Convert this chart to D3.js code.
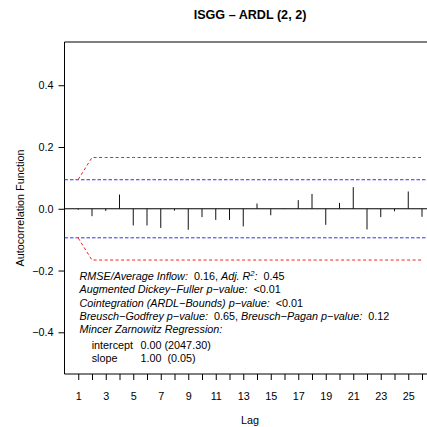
<!DOCTYPE html>
<html><head><meta charset="utf-8">
<script src="https://cdn.jsdelivr.net/npm/d3@7"></script>
<style>body{margin:0;background:#fff}svg{display:block}text{font-family:"Liberation Sans",Arial,sans-serif;white-space:pre}</style>
</head><body>
<script>
const title = "ISGG \u2013 ARDL (2, 2)";
const lags = [1,2,3,4,5,6,7,8,9,10,11,12,13,14,15,16,17,18,19,20,21,22,23,24,25,26];
const acf = [-0.003,-0.024,-0.007,0.046,-0.054,-0.054,-0.062,-0.006,-0.068,-0.027,-0.036,-0.036,-0.057,0.017,-0.021,-0.001,0.028,0.048,-0.052,0.019,0.070,-0.067,-0.027,-0.008,0.056,-0.026];
const ciWhite = 0.094;
const ciBartlett = [0.095,0.166,0.166,0.166,0.166,0.166,0.166,0.166,0.166,0.166,0.166,0.166,0.166,0.166,0.166,0.166,0.166,0.166,0.166,0.166,0.166,0.166,0.166,0.166,0.166,0.166];
const yTicks = [-0.4,-0.2,0.0,0.2,0.4];
const xTickLabels = [1,3,5,7,9,11,13,15,17,19,21,23,25];
const notes = [
  [["RMSE/Average Inflow:",true],["  0.16, ",false],["Adj. R",true],["2",true,"sup"],[":",true],["  0.45",false]],
  [["Augmented Dickey\u2212Fuller p\u2212value:",true],["  <0.01",false]],
  [["Cointegration (ARDL\u2212Bounds) p\u2212value:",true],["  <0.01",false]],
  [["Breusch\u2212Godfrey p\u2212value:",true],["  0.65, ",false],["Breusch\u2212Pagan p\u2212value:",true],["  0.12",false]],
  [["Mincer Zarnowitz Regression:",true]]
];
const mzRows = [["intercept","0.00 (2047.30)"],["slope","1.00  (0.05)"]];

const W=427,H=427;
const svg=d3.select("body").append("svg").attr("width",W).attr("height",H);
const x=d3.scaleLinear().domain([0,27]).range([64.5,435.75]);
const y=d3.scaleLinear().domain([-0.535,0.54]).range([374,42]);
const fs=10.8;

svg.append("text").attr("x",250).attr("y",19).attr("text-anchor","middle")
  .attr("font-weight","bold").attr("font-size",12.6).text(title);

svg.append("path").attr("d",`M${x(27)},${y(0.54)}H${x(0)}V${y(-0.535)}H${x(27)}`)
  .attr("fill","none").attr("stroke","#000").attr("stroke-width",1);

const ya=svg.append("g").attr("transform",`translate(${x(0)},0)`)
  .call(d3.axisLeft(y).tickValues(yTicks).tickSize(6).tickPadding(5).tickFormat(d3.format(".1f")));
ya.select(".domain").remove();
ya.selectAll("text").attr("font-size",fs).attr("font-family","Liberation Sans, Arial, sans-serif").attr("fill","#000");

const xa=svg.append("g").attr("transform",`translate(0,${y(-0.535)})`)
  .call(d3.axisBottom(x).tickValues(lags).tickSize(6).tickPadding(12)
    .tickFormat(d=>xTickLabels.includes(d)?d:""));
xa.select(".domain").remove();
xa.selectAll("text").attr("font-size",fs).attr("font-family","Liberation Sans, Arial, sans-serif").attr("fill","#000");

svg.append("text").attr("x",250).attr("y",424).attr("text-anchor","middle").attr("font-size",fs).text("Lag");
svg.append("text").attr("transform",`translate(24,208) rotate(-90)`).attr("text-anchor","middle")
  .attr("font-size",fs).text("Autocorrelation Function");

svg.append("line").attr("x1",x(0)).attr("x2",x(27)).attr("y1",y(0)).attr("y2",y(0))
  .attr("stroke","#000").attr("stroke-width",1);

[ciWhite,-ciWhite].forEach(v=>{
  svg.append("line").attr("x1",x(0)).attr("x2",x(27)).attr("y1",y(v)).attr("y2",y(v))
    .attr("stroke","#2f2fff").attr("stroke-width",1).attr("stroke-dasharray","3.5,2");
});
[1,-1].forEach(s=>{
  svg.append("path").datum(lags)
    .attr("d",d3.line().x(d=>x(d)).y((d,i)=>y(s*ciBartlett[i])))
    .attr("fill","none").attr("stroke","#f02020").attr("stroke-width",1).attr("stroke-dasharray","3,2.5");
});

svg.append("g").selectAll("line").data(lags).join("line")
  .attr("x1",d=>x(d)).attr("x2",d=>x(d)).attr("y1",y(0)).attr("y2",(d,i)=>y(acf[i]))
  .attr("stroke","#111").attr("stroke-width",1);

const nt=svg.append("g").attr("font-size",fs);
notes.forEach((parts,i)=>{
  const t=nt.append("text").attr("x",79.5).attr("y",280+i*13.3);
  parts.forEach((p,j)=>{
    const ts=t.append("tspan").attr("font-style",p[1]?"italic":"normal").text(p[0]);
    if(p[2]==="sup"){ts.attr("font-size",fs*0.7).attr("dy",-4);}
    else if(j>0 && parts[j-1][2]==="sup"){ts.attr("dy",4);}
  });
});
mzRows.forEach((r,i)=>{
  const yy=280+5*13.3+2.5+i*13.3;
  nt.append("text").attr("x",91.7).attr("y",yy).text(r[0]);
  nt.append("text").attr("x",140.5).attr("y",yy).text(r[1]);
});
</script>
</body></html>
